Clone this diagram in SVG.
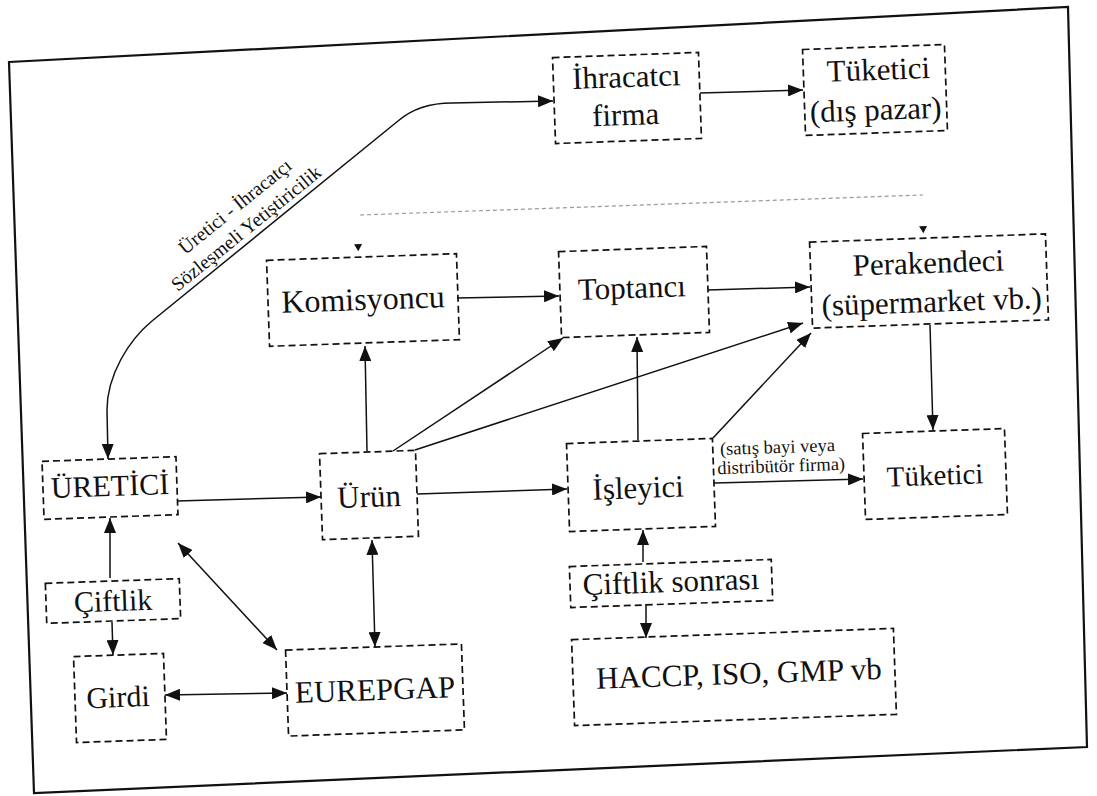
<svg xmlns="http://www.w3.org/2000/svg" width="1097" height="796" viewBox="0 0 1097 796" font-family="Liberation Serif, Tinos, Times New Roman, DejaVu Serif, serif">
<defs>
<style>
.box{fill:none;stroke:#111;stroke-width:1.7;stroke-dasharray:7 4}
.lbl{font-size:31px;fill:#111;text-anchor:middle}
.small{font-size:18.5px}
.cn{fill:none;stroke:#111;stroke-width:1.5}
.tri{fill:#111}
</style>
<marker id="ah" viewBox="0 0 15 12" refX="15" refY="6" markerWidth="15" markerHeight="12" markerUnits="userSpaceOnUse" orient="auto-start-reverse"><path d="M0,0 L15,6 L0,12 z" fill="#111"/></marker>
</defs>
<rect width="1097" height="796" fill="#fff"/>
<polygon id="frame" points="9,62 1068,7 1087,747 34,793" fill="none" stroke="#111" stroke-width="2.2"/>
<line id="separator" x1="360" y1="215" x2="923" y2="195" stroke="#999" stroke-width="1.2" stroke-dasharray="4 3"/>

<g id="connectors">
<path class="cn" d="M108,459 L107,410 C107,375 129,340 152,321 L398,121 C413,108 432,103 452,103 L553,101" marker-start="url(#ah)" marker-end="url(#ah)"/>
<line class="cn" x1="700" y1="93" x2="803" y2="90" marker-end="url(#ah)"/>
<line class="cn" x1="457" y1="298" x2="559" y2="296" marker-end="url(#ah)"/>
<line class="cn" x1="708" y1="290" x2="810" y2="287" marker-end="url(#ah)"/>
<line class="cn" x1="367" y1="451" x2="365" y2="346" marker-end="url(#ah)"/>
<line class="cn" x1="393" y1="451" x2="563" y2="338" marker-end="url(#ah)"/>
<line class="cn" x1="415" y1="450" x2="803" y2="323" marker-end="url(#ah)"/>
<line class="cn" x1="638" y1="440" x2="637" y2="337" marker-end="url(#ah)"/>
<line class="cn" x1="713" y1="438" x2="811" y2="333" marker-end="url(#ah)"/>
<line class="cn" x1="930" y1="325" x2="933" y2="430" marker-end="url(#ah)"/>
<line class="cn" x1="177" y1="501" x2="321" y2="497" marker-end="url(#ah)"/>
<line class="cn" x1="417" y1="494" x2="567" y2="489" marker-end="url(#ah)"/>
<line class="cn" x1="714" y1="483" x2="863" y2="479" marker-end="url(#ah)"/>
<line class="cn" x1="110" y1="578" x2="110" y2="518" marker-end="url(#ah)"/>
<line class="cn" x1="112" y1="622" x2="113" y2="655" marker-end="url(#ah)"/>
<line class="cn" x1="178" y1="543" x2="277" y2="650" marker-start="url(#ah)" marker-end="url(#ah)"/>
<line class="cn" x1="372" y1="540" x2="375" y2="647" marker-start="url(#ah)" marker-end="url(#ah)"/>
<line class="cn" x1="165" y1="695" x2="287" y2="693" marker-start="url(#ah)" marker-end="url(#ah)"/>
<line class="cn" x1="643" y1="562" x2="643" y2="530" marker-end="url(#ah)"/>
<line class="cn" x1="646" y1="604" x2="646" y2="638" marker-end="url(#ah)"/>
<g id="label-sozlesme" transform="translate(254,238) rotate(-39)">
<text class="lbl" style="font-size:19.5px" x="5" y="-30">Üretici - İhracatçı</text>
<text class="lbl" style="font-size:19.5px" x="0" y="-6">Sözleşmeli Yetiştiricilik</text>
</g>
<g id="label-satis" transform="rotate(-2 780 462)">
<text class="lbl small" x="778" y="453">(satış bayi veya</text>
<text class="lbl small" x="781" y="472">distribütör firma)</text>
</g>
</g>

<g id="ihracatci" transform="translate(627,98) rotate(-2)">
<rect class="box" x="-73" y="-43" width="146" height="86"/>
<text class="lbl" x="0" y="-11">İhracatcı</text>
<text class="lbl" x="-2" y="27">firma</text>
</g>
<g id="tuketici-dis" transform="translate(875,90) rotate(-2)">
<rect class="box" x="-71" y="-43" width="142" height="86"/>
<text class="lbl" x="4" y="-10">Tüketici</text>
<text class="lbl" x="0" y="30">(dış pazar)</text>
</g>
<g id="komisyoncu" transform="translate(363,300) rotate(-2)">
<rect class="box" x="-95" y="-43" width="190" height="86"/>
<polygon class="tri" points="-7,-56 1,-56 -3,-49"/>
<text class="lbl" style="font-size:32px" x="0" y="10">Komisyoncu</text>
</g>
<g id="toptanci" transform="translate(634,292) rotate(-2)">
<rect class="box" x="-74" y="-43" width="148" height="86"/>
<text class="lbl" x="-2" y="6">Toptancı</text>
</g>
<g id="perakendeci" transform="translate(929,281) rotate(-2)">
<rect class="box" x="-118" y="-43" width="236" height="86"/>
<polygon class="tri" points="-8,-55 0,-55 -4,-48"/>
<text class="lbl" x="0" y="-8">Perakendeci</text>
<text class="lbl" x="2" y="31">(süpermarket vb.)</text>
</g>
<g id="uretici" transform="translate(110,488) rotate(-2)">
<rect class="box" x="-67" y="-29" width="134" height="58"/>
<text class="lbl" style="font-size:30px" x="0" y="8">ÜRETİCİ</text>
</g>
<g id="urun" transform="translate(369,495) rotate(-2)">
<rect class="box" x="-48" y="-43" width="96" height="86"/>
<text class="lbl" x="0" y="12">Ürün</text>
</g>
<g id="isleyici" transform="translate(641,485) rotate(-2)">
<rect class="box" x="-73" y="-44" width="146" height="88"/>
<text class="lbl" x="-3" y="13">İşleyici</text>
</g>
<g id="tuketici" transform="translate(935,474) rotate(-2)">
<rect class="box" x="-71" y="-43" width="142" height="86"/>
<text class="lbl" style="font-size:29px" x="0" y="11">Tüketici</text>
</g>
<g id="ciftlik" transform="translate(113,601) rotate(-2)">
<rect class="box" x="-67" y="-20" width="134" height="40"/>
<text class="lbl" style="font-size:30px" x="0" y="10">Çiftlik</text>
</g>
<g id="girdi" transform="translate(120,698) rotate(-2)">
<rect class="box" x="-45" y="-43" width="90" height="86"/>
<text class="lbl" style="font-size:30px" x="-2" y="9">Girdi</text>
</g>
<g id="eurepgap" transform="translate(375,690) rotate(-2)">
<rect class="box" x="-88" y="-43" width="176" height="86"/>
<text class="lbl" x="0" y="10">EUREPGAP</text>
</g>
<g id="ciftlik-sonrasi" transform="translate(671,583) rotate(-2)">
<rect class="box" x="-101" y="-20" width="202" height="41"/>
<text class="lbl" x="0" y="9">Çiftlik sonrası</text>
</g>
<g id="haccp" transform="translate(734,677) rotate(-2)">
<rect class="box" x="-161" y="-43" width="322" height="86"/>
<text class="lbl" x="5" y="7">HACCP, ISO, GMP vb</text>
</g>
</svg>
